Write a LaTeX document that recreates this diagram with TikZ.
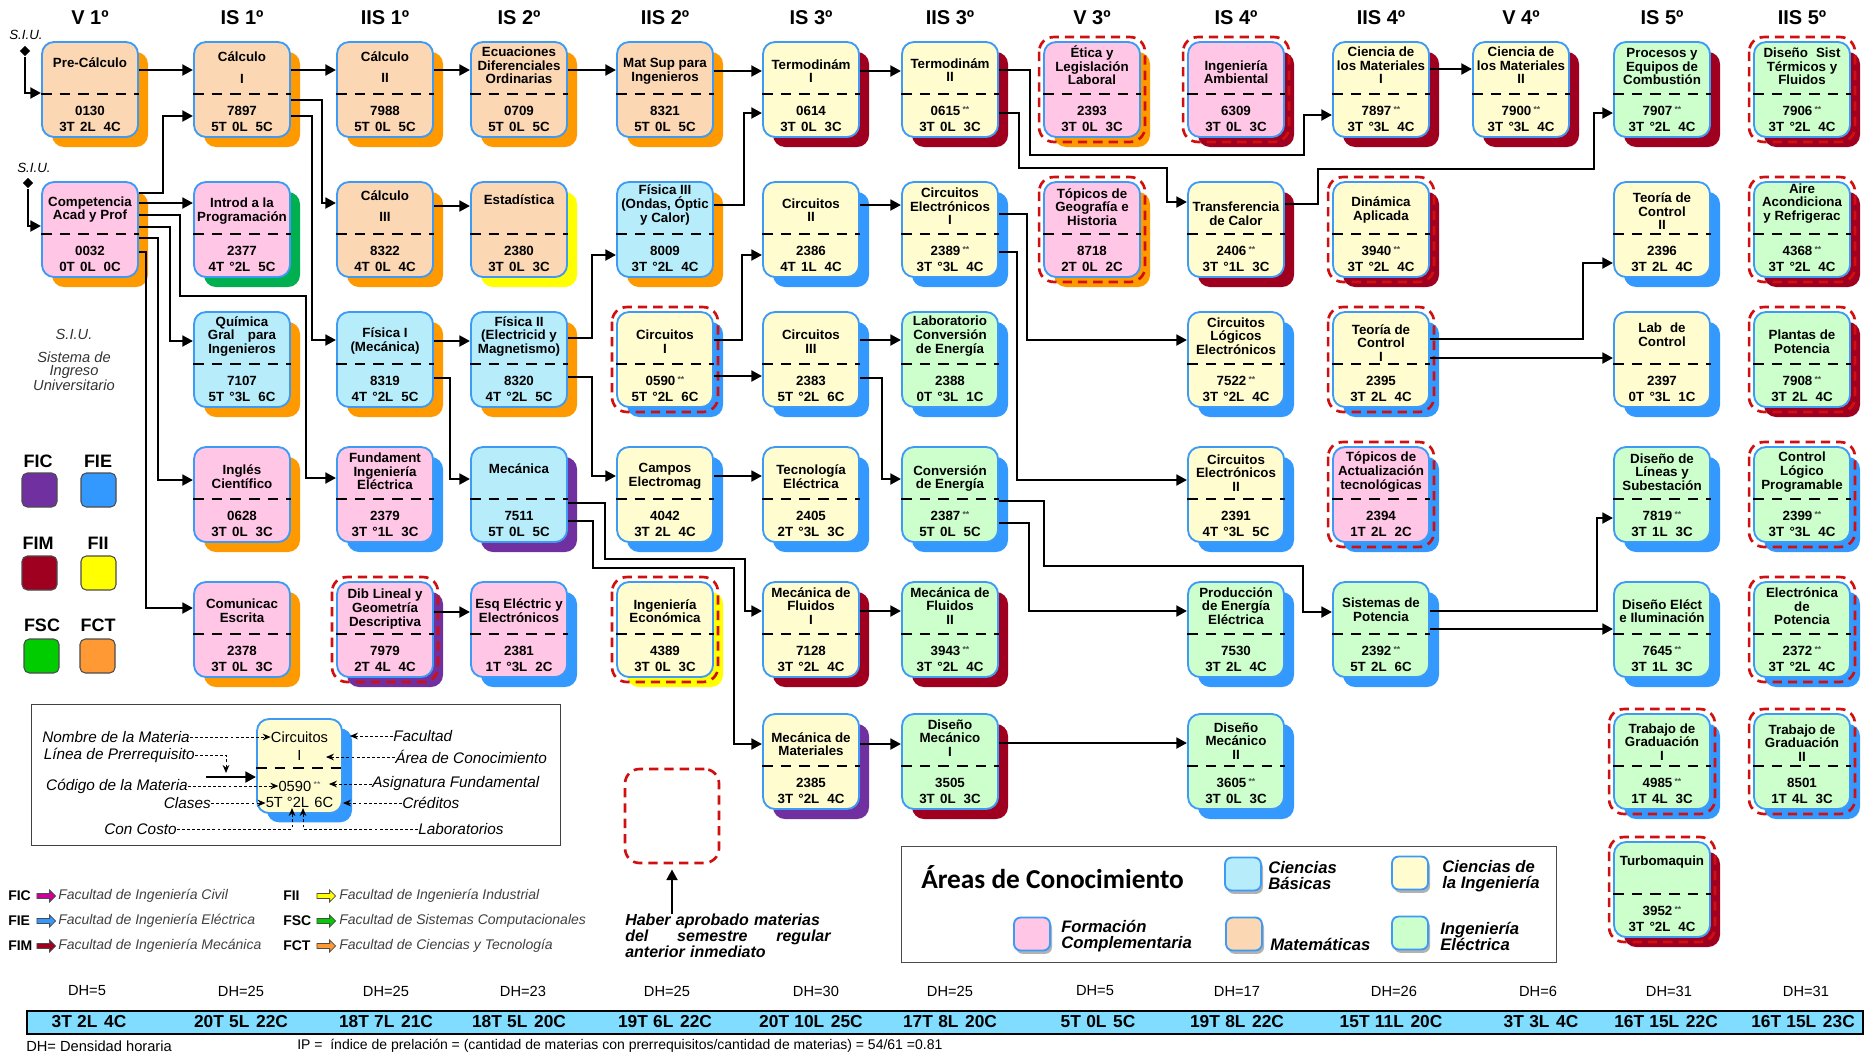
\documentclass[tikz,border=0pt]{standalone}
\usepackage{fontspec}
\setmainfont{Liberation Sans}
\newfontfamily\carlito{Carlito}
\usetikzlibrary{arrows.meta,shadows,calc,shapes.geometric,shapes.arrows}
\definecolor{cMat}{HTML}{FCD7B4}
\definecolor{cFor}{HTML}{FFC6E6}
\definecolor{cBas}{HTML}{B7EDFB}
\definecolor{cIng}{HTML}{FFFDD0}
\definecolor{cEle}{HTML}{CCFFCC}
\definecolor{bordB}{HTML}{3D9BF5}
\definecolor{fFIC}{HTML}{7030A0}
\definecolor{fFIE}{HTML}{3399FF}
\definecolor{fFIM}{HTML}{A00020}
\definecolor{fFII}{HTML}{FFFF00}
\definecolor{fFSC}{HTML}{00B050}
\definecolor{fFCT}{HTML}{FF9900}
\definecolor{sqFSC}{HTML}{00CC00}
\definecolor{sqFCT}{HTML}{FF9933}
\definecolor{arFIC}{HTML}{CC0099}
\definecolor{redfr}{HTML}{D01010}
\definecolor{barc}{HTML}{80DDFF}
\definecolor{txg}{HTML}{404040}
\newcommand{\stars}{\,\raisebox{2.5pt}{\fontsize{6.5}{6.5}\selectfont\color{black!70}**}}
\newcommand{\crd}[3]{#1\hspace{4pt}#2\hspace{6pt}#3}
\newcommand{\subj}[9]{%
  \node[subj, fill=#4, general shadow={fill=#5, shadow xshift=7.5pt, shadow yshift=-7.5pt}] (#1) at (#2,#3+47.5) {};
  \draw[divid] (#1.west |- 0,#3+52) -- (#1.east |- 0,#3+52);
  \node[ttl] (#1-t) at (#2,#3+#9) {#6};
  \node[cdt] (#1-c) at (#2,#3+69) {#7};
  \node[cdt] (#1-k) at (#2,#3+85) {#8};
}
\newcommand{\redfr}[1]{\draw[redframe] ($(#1.north west)+(-4,-4)$) rectangle ($(#1.south east)+(4,4)$);}
\begin{document}
\begin{tikzpicture}[x=0.75pt,y=-0.75pt,
  subj/.style={rectangle, rounded corners=9pt, draw=bordB, line width=1.4pt, minimum width=72pt, minimum height=71.25pt, inner sep=0pt},
  divid/.style={line width=1.5pt, dash pattern=on 8pt off 6pt},
  ttl/.style={font=\fontsize{10}{10.2}\selectfont\bfseries, align=center, inner sep=0pt},
  cdt/.style={font=\fontsize{10}{12}\selectfont\bfseries, inner sep=0pt},
  conn/.style={line width=2pt, -{Triangle[length=8pt,width=8pt]}},
  redframe/.style={draw=redfr, line width=2pt, dash pattern=on 7pt off 4.5pt, rounded corners=11pt},
  hdr/.style={font=\fontsize{15}{15}\selectfont\bfseries, inner sep=0pt},
  sdiam/.style={diamond, fill=black, inner sep=0pt, minimum size=8pt},
  siu/.style={font=\fontsize{10}{10}\selectfont\itshape, inner sep=0pt},
  fsq/.style={rectangle, rounded corners=4pt, draw=black!70, line width=0.8pt, minimum width=26.25pt, minimum height=25.5pt, inner sep=0pt},
  flab/.style={font=\fontsize{13.5}{13.5}\selectfont\bfseries, inner sep=0pt},
  fab/.style={font=\fontsize{10.5}{10.5}\selectfont\bfseries, inner sep=0pt, anchor=west},
  farr/.style={single arrow, draw=black!70, line width=0.6pt, minimum height=14pt, minimum width=9pt, single arrow head extend=1.5pt, inner sep=0.8pt},
  ftx/.style={font=\fontsize{10.5}{10.5}\selectfont\itshape, text=txg, inner sep=0pt, anchor=west},
  dhl/.style={font=\fontsize{11}{11}\selectfont, inner sep=0pt},
  bartx/.style={font=\fontsize{13}{13}\selectfont\bfseries, inner sep=0pt},
  lgl/.style={font=\fontsize{11.5}{11.5}\selectfont\itshape, inner sep=0pt},
  ldash/.style={line width=0.7pt, dash pattern=on 2.2pt off 1.6pt, -{Stealth[length=6pt,width=5pt]}},
  smp/.style={font=\fontsize{11}{11}\selectfont, inner sep=0pt},
  asw/.style={rectangle, rounded corners=5pt, draw=bordB, line width=1.4pt, minimum width=27pt, minimum height=24.75pt, inner sep=0pt, general shadow={fill=black!30, shadow xshift=1.5pt, shadow yshift=-2.5pt}},
  atx/.style={font=\fontsize{12.5}{12}\selectfont\bfseries\itshape, align=left, inner sep=0pt, anchor=west},
]
\useasboundingbox (0,0) rectangle (1872,1057);
% headers
\node[hdr] (h1) at (90,18) {V 1º};
\node[hdr] (h2) at (242,18) {IS 1º};
\node[hdr] (h3) at (385,18) {IIS 1º};
\node[hdr] (h4) at (519,18) {IS 2º};
\node[hdr] (h5) at (665,18) {IIS 2º};
\node[hdr] (h6) at (811,18) {IS 3º};
\node[hdr] (h7) at (950,18) {IIS 3º};
\node[hdr] (h8) at (1092,18) {V 3º};
\node[hdr] (h9) at (1236,18) {IS 4º};
\node[hdr] (h10) at (1381,18) {IIS 4º};
\node[hdr] (h11) at (1521,18) {V 4º};
\node[hdr] (h12) at (1662,18) {IS 5º};
\node[hdr] (h13) at (1802,18) {IIS 5º};
% row 1
\subj{prec}{90}{42}{cMat}{fFCT}{Pre-Cálculo}{0130}{\crd{3T}{2L}{4C}}{21}
\subj{calc1}{242}{42}{cMat}{fFCT}{Cálculo\\[6pt]I}{7897}{\crd{5T}{0L}{5C}}{25.5}
\subj{calc2}{385}{42}{cMat}{fFCT}{Cálculo\\[6pt]II}{7988}{\crd{5T}{0L}{5C}}{25}
\subj{ecu}{519}{42}{cMat}{fFCT}{Ecuaciones\\Diferenciales\\Ordinarias}{0709}{\crd{5T}{0L}{5C}}{23.5}
\subj{matsup}{665}{42}{cMat}{fFCT}{Mat Sup para\\Ingenieros}{8321}{\crd{5T}{0L}{5C}}{29}
\subj{termo1}{811}{42}{cIng}{fFIM}{Termodinám\\I}{0614}{\crd{3T}{0L}{3C}}{29}
\subj{termo2}{950}{42}{cIng}{fFIM}{Termodinám\\II}{0615\stars}{\crd{3T}{0L}{3C}}{28}
\subj{etica}{1092}{42}{cFor}{fFCT}{Ética y\\Legislación\\Laboral}{2393}{\crd{3T}{0L}{3C}}{23.5}
\subj{ambi}{1236}{42}{cFor}{fFIM}{Ingeniería\\Ambiental}{6309}{\crd{3T}{0L}{3C}}{30}
\subj{cmat1}{1381}{42}{cIng}{fFIM}{Ciencia de\\los Materiales\\I}{7897\stars}{\crd{3T}{°3L}{4C}}{23.5}
\subj{cmat2}{1521}{42}{cIng}{fFIM}{Ciencia de\\los Materiales\\II}{7900\stars}{\crd{3T}{°3L}{4C}}{23.5}
\subj{proc}{1662}{42}{cEle}{fFIM}{Procesos y\\Equipos de\\Combustión}{7907\stars}{\crd{3T}{°2L}{4C}}{24.5}
\subj{dsist}{1802}{42}{cEle}{fFIM}{Diseño\hspace{0.6em}Sist\\Térmicos y\\Fluidos}{7906\stars}{\crd{3T}{°2L}{4C}}{24.5}
% row 2
\subj{comp}{90}{182}{cFor}{fFCT}{Competencia\\Acad y Prof}{0032}{\crd{0T}{0L}{0C}}{27.5}
\subj{intro}{242}{182}{cFor}{fFSC}{Introd a la\\Programación}{2377}{\crd{4T}{°2L}{5C}}{29}
\subj{calc3}{385}{182}{cMat}{fFCT}{Cálculo\\[6pt]III}{8322}{\crd{4T}{0L}{4C}}{24}
\subj{esta}{519}{182}{cMat}{fFII}{Estadística}{2380}{\crd{3T}{0L}{3C}}{18}
\subj{fis3}{665}{182}{cBas}{fFCT}{Física III\\(Ondas, Óptic\\y Calor)}{8009}{\crd{3T}{°2L}{4C}}{23}
\subj{circ2}{811}{182}{cIng}{fFIE}{Circuitos\\II}{2386}{\crd{4T}{1L}{4C}}{28}
\subj{ce1}{950}{182}{cIng}{fFIE}{Circuitos\\Electrónicos\\I}{2389\stars}{\crd{3T}{°3L}{4C}}{24.5}
\subj{geo}{1092}{182}{cFor}{fFCT}{Tópicos de\\Geografía e\\Historia}{8718}{\crd{2T}{0L}{2C}}{25}
\subj{transf}{1236}{182}{cIng}{fFIM}{Transferencia\\de Calor}{2406\stars}{\crd{3T}{°1L}{3C}}{31.5}
\subj{dina}{1381}{182}{cIng}{fFIM}{Dinámica\\Aplicada}{3940\stars}{\crd{3T}{°2L}{4C}}{28}
\subj{tc2}{1662}{182}{cIng}{fFIE}{Teoría de\\Control\\II}{2396}{\crd{3T}{2L}{4C}}{29.5}
\subj{aire}{1802}{182}{cEle}{fFIM}{Aire\\Acondiciona\\y Refrigerac}{4368\stars}{\crd{3T}{°2L}{4C}}{21.5}
% row 3
\subj{quim}{242}{312}{cBas}{fFCT}{Química\\Gral\hspace{1em}para\\Ingenieros}{7107}{\crd{5T}{°3L}{6C}}{24.5}
\subj{fis1}{385}{312}{cBas}{fFCT}{Física I\\(Mecánica)}{8319}{\crd{4T}{°2L}{5C}}{29}
\subj{fis2}{519}{312}{cBas}{fFCT}{Física II\\(Electricid y\\Magnetismo)}{8320}{\crd{4T}{°2L}{5C}}{24.5}
\subj{circ1}{665}{312}{cIng}{fFIE}{Circuitos\\I}{0590\stars}{\crd{5T}{°2L}{6C}}{29.5}
\subj{circ3}{811}{312}{cIng}{fFIE}{Circuitos\\III}{2383}{\crd{5T}{°2L}{6C}}{29.5}
\subj{labce}{950}{312}{cEle}{fFIE}{Laboratorio\\Conversión\\de Energía}{2388}{\crd{0T}{°3L}{1C}}{24}
\subj{clog}{1236}{312}{cIng}{fFIE}{Circuitos\\Lógicos\\Electrónicos}{7522\stars}{\crd{3T}{°2L}{4C}}{24}
\subj{tc1}{1381}{312}{cIng}{fFIE}{Teoría de\\Control\\I}{2395}{\crd{3T}{2L}{4C}}{31}
\subj{labc}{1662}{312}{cIng}{fFIE}{Lab\hspace{0.6em}de\\Control}{2397}{\crd{0T}{°3L}{1C}}{22.5}
\subj{plant}{1802}{312}{cEle}{fFIM}{Plantas de\\Potencia}{7908\stars}{\crd{3T}{2L}{4C}}{29.5}
% row 4
\subj{ingl}{242}{447}{cFor}{fFCT}{Inglés\\Científico}{0628}{\crd{3T}{0L}{3C}}{29.5}
\subj{fund}{385}{447}{cFor}{fFIE}{Fundament\\Ingeniería\\Eléctrica}{2379}{\crd{3T}{°1L}{3C}}{24.5}
\subj{meca}{519}{447}{cBas}{fFIC}{Mecánica}{7511}{\crd{5T}{0L}{5C}}{22}
\subj{campos}{665}{447}{cIng}{fFIE}{Campos\\Electromag}{4042}{\crd{3T}{2L}{4C}}{29.5}
\subj{tecel}{811}{447}{cIng}{fFIE}{Tecnología\\Eléctrica}{2405}{\crd{2T}{°3L}{3C}}{29.5}
\subj{conv}{950}{447}{cEle}{fFIE}{Conversión\\de Energía}{2387\stars}{\crd{5T}{0L}{5C}}{31.5}
\subj{ce2}{1236}{447}{cIng}{fFIE}{Circuitos\\Electrónicos\\II}{2391}{\crd{4T}{°3L}{5C}}{26}
\subj{topac}{1381}{447}{cFor}{fFIE}{Tópicos de\\Actualización\\tecnológicas}{2394}{\crd{1T}{2L}{2C}}{25}
\subj{dlin}{1662}{447}{cEle}{fFIE}{Diseño de\\Líneas y\\Subestación}{7819\stars}{\crd{3T}{1L}{3C}}{25}
\subj{clp}{1802}{447}{cEle}{fFIE}{Control\\Lógico\\Programable}{2399\stars}{\crd{3T}{°3L}{4C}}{25}
% row 5
\subj{comu}{242}{582}{cFor}{fFCT}{Comunicac\\Escrita}{2378}{\crd{3T}{0L}{3C}}{29}
\subj{dib}{385}{582}{cFor}{fFIC}{Dib Lineal y\\Geometría\\Descriptiva}{7979}{\crd{2T}{4L}{4C}}{27}
\subj{esq}{519}{582}{cFor}{fFIE}{Esq Eléctric y\\Electrónicos}{2381}{\crd{1T}{°3L}{2C}}{28.5}
\subj{ingec}{665}{582}{cIng}{fFII}{Ingeniería\\Económica}{4389}{\crd{3T}{0L}{3C}}{29}
\subj{mf1}{811}{582}{cIng}{fFIM}{Mecánica de\\Fluidos\\I}{7128}{\crd{3T}{°2L}{4C}}{24}
\subj{mf2}{950}{582}{cEle}{fFIM}{Mecánica de\\Fluidos\\II}{3943\stars}{\crd{3T}{°2L}{4C}}{24}
\subj{prod}{1236}{582}{cEle}{fFIE}{Producción\\de Energía\\Eléctrica}{7530}{\crd{3T}{2L}{4C}}{24}
\subj{sist}{1381}{582}{cEle}{fFIE}{Sistemas de\\Potencia}{2392\stars}{\crd{5T}{2L}{6C}}{28}
\subj{delec}{1662}{582}{cEle}{fFIE}{Diseño Eléct\\e Iluminación}{7645\stars}{\crd{3T}{1L}{3C}}{29}
\subj{elpot}{1802}{582}{cEle}{fFIE}{Electrónica\\de\\Potencia}{2372\stars}{\crd{3T}{°2L}{4C}}{24.5}
% row 6
\subj{mmat}{811}{714}{cIng}{fFIC}{Mecánica de\\Materiales}{2385}{\crd{3T}{°2L}{4C}}{30}
\subj{dm1}{950}{714}{cEle}{fFIM}{Diseño\\Mecánico\\I}{3505}{\crd{3T}{0L}{3C}}{24}
\subj{dm2}{1236}{714}{cEle}{fFIE}{Diseño\\Mecánico\\II}{3605\stars}{\crd{3T}{0L}{3C}}{27}
\subj{tg1}{1662}{714}{cEle}{fFIE}{Trabajo de\\Graduación\\I}{4985\stars}{\crd{1T}{4L}{3C}}{28}
\subj{tg2}{1802}{714}{cEle}{fFIE}{Trabajo de\\Graduación\\II}{8501}{\crd{1T}{4L}{3C}}{29}
% row 7
\subj{turbo}{1662}{842}{cEle}{fFIM}{Turbomaquin}{3952\stars}{\crd{3T}{°2L}{4C}}{20}
% red frames
\redfr{etica}\redfr{ambi}\redfr{dsist}\redfr{geo}\redfr{dina}\redfr{aire}
\redfr{circ1}\redfr{tc1}\redfr{plant}\redfr{topac}\redfr{clp}
\redfr{dib}\redfr{ingec}\redfr{elpot}\redfr{tg1}\redfr{tg2}\redfr{turbo}
% S.I.U. entries
\node[sdiam] (siu1) at (25,51) {};
\node[siu] (siu1l) at (26,35) {S.I.U.};
\draw[conn] (siu1) |- (prec.west |- 0,93);
\node[sdiam] (siu2) at (28,183) {};
\node[siu] (siu2l) at (34,168) {S.I.U.};
\draw[conn] (siu2) |- (comp.west |- 0,226);
% connectors
\draw[conn] (prec.east |- 0,70) -- (calc1.west |- 0,70);
\draw[conn] (calc1.east |- 0,70) -- (calc2.west |- 0,70);
\draw[conn] (calc2.east |- 0,70) -- (ecu.west |- 0,70);
\draw[conn] (ecu.east |- 0,70) -- (matsup.west |- 0,70);
\draw[conn] (matsup.east |- 0,71) -- (termo1.west |- 0,71);
\draw[conn] (termo1.east |- 0,71) -- (termo2.west |- 0,71);
\draw[conn] (calc1.east |- 0,100) -| (322,203) -- (calc3.west |- 0,203);
\draw[conn] (calc1.east |- 0,116) -| (312,340) -- (fis1.west |- 0,340);
\draw[conn] (comp.east |- 0,193) -| (163,116) -- (calc1.west |- 0,116);
\draw[conn] (comp.east |- 0,203) -- (intro.west |- 0,203);
\draw[conn] (comp.east |- 0,215) -| (180,296) -| (306,478) -- (fund.west |- 0,478);
\draw[conn] (comp.east |- 0,227) -| (170,341) -- (quim.west |- 0,341);
\draw[conn] (comp.east |- 0,238) -| (158,480) -- (ingl.west |- 0,480);
\draw[conn] (comp.east |- 0,252) -| (146,608) -- (comu.west |- 0,608);
\draw[conn] (calc3.east |- 0,206) -- (esta.west |- 0,206);
\draw[conn] (fis1.east |- 0,341) -- (fis2.west |- 0,341);
\draw[conn] (fis1.east |- 0,378) -| (450,479) -- (meca.west |- 0,479);
\draw[conn] (dib.east |- 0,612) -- (esq.west |- 0,612);
\draw[conn] (fis2.east |- 0,338) -| (592,255) -- (fis3.west |- 0,255);
\draw[conn] (fis2.east |- 0,377) -| (592,476) -- (campos.west |- 0,476);
\draw[conn] (meca.east |- 0,503) -| (605,559) -| (745,611) -- (mf1.west |- 0,611);
\draw[conn] (meca.east |- 0,521) -| (593,568) -| (734,744) -- (mmat.west |- 0,744);
\draw[conn] (fis3.east |- 0,205) -| (744,113) -- (termo1.west |- 0,113);
\draw[conn] (circ1.east |- 0,340) -| (742,255) -- (circ2.west |- 0,255);
\draw[conn] (circ1.east |- 0,376) -- (circ3.west |- 0,376);
\draw[conn] (circ2.east |- 0,205) -- (ce1.west |- 0,205);
\draw[conn] (circ3.east |- 0,340) -- (labce.west |- 0,340);
\draw[conn] (circ3.east |- 0,378) -| (882,479) -- (conv.west |- 0,479);
\draw[conn] (campos.east |- 0,476) -- (tecel.west |- 0,476);
\draw[conn] (mf1.east |- 0,611) -- (mf2.west |- 0,611);
\draw[conn] (mmat.east |- 0,744) -- (dm1.west |- 0,744);
\draw[conn] (dm1.east |- 0,743) -- (dm2.west |- 0,743);
\draw[conn] (termo2.east |- 0,70) -| (1030,155) -| (1304,115) -- (cmat1.west |- 0,115);
\draw[conn] (termo2.east |- 0,113) -| (1019,168) -| (1167,202) -- (transf.west |- 0,202);
\draw[conn] (ce1.east |- 0,214) -| (1027,340) -- (clog.west |- 0,340);
\draw[conn] (ce1.east |- 0,252) -| (1017,480) -- (ce2.west |- 0,480);
\draw[conn] (transf.east |- 0,204) -| (1318,169) -| (1594,113) -- (proc.west |- 0,113);
\draw[conn] (cmat1.east |- 0,69) -- (cmat2.west |- 0,69);
\draw[conn] (conv.east |- 0,501) -| (1044,566) -| (1303,612) -- (sist.west |- 0,612);
\draw[conn] (conv.east |- 0,523) -| (1029,611) -- (prod.west |- 0,611);
\draw[conn] (tc1.east |- 0,339) -| (1583,263) -- (tc2.west |- 0,263);
\draw[conn] (tc1.east |- 0,358) -- (labc.west |- 0,358);
\draw[conn] (sist.east |- 0,611) -| (1597,518) -- (dlin.west |- 0,518);
\draw[conn] (sist.east |- 0,629) -- (delec.west |- 0,629);
% left legend S.I.U.
\node[font=\fontsize{11}{9.8}\selectfont\itshape, text=black!80, align=center, inner sep=0pt] (siuleg) at (74,360) {S.I.U.\\[8pt]Sistema de\\Ingreso\\Universitario};
% faculty squares
\node[flab] (lFIC) at (38,461) {FIC};
\node[fsq, fill=fFIC] (sFIC) at (39.5,490) {};
\node[flab] (lFIE) at (98,461) {FIE};
\node[fsq, fill=fFIE] (sFIE) at (98.5,490) {};
\node[flab] (lFIM) at (38,543) {FIM};
\node[fsq, fill=fFIM] (sFIM) at (39.5,573) {};
\node[flab] (lFII) at (98,543) {FII};
\node[fsq, fill=fFII] (sFII) at (98.5,573) {};
\node[flab] (lFSC) at (42,625) {FSC};
\node[fsq, fill=sqFSC] (sFSC) at (41.5,656) {};
\node[flab] (lFCT) at (98,625) {FCT};
\node[fsq, fill=sqFCT] (sFCT) at (97.5,656) {};
% explanation legend
\node[draw=black!75, line width=1pt, minimum width=396.75pt, minimum height=105.75pt, inner sep=0pt, anchor=north west] (lgframe) at (31,704) {};
\node[subj, minimum width=63.75pt, minimum height=70.5pt, fill=cIng, general shadow={fill=fFIE, shadow xshift=7.5pt, shadow yshift=-7pt}] (sample) at (299.5,766) {};
\draw[divid] (sample.west |- 0,768) -- (sample.east |- 0,768);
\node[smp] (st1) at (299.5,737) {Circuitos};
\node[smp] (st2) at (299.5,755) {I};
\node[smp] (sc) at (299.5,786) {0590\stars};
\node[smp] (sk) at (299.5,802) {5T\hspace{3pt}°2L\hspace{4pt}6C};
\node[lgl, anchor=east] (lnom) at (190,737) {Nombre de la Materia};
\node[lgl, anchor=east] (lpre) at (195,755) {Línea de Prerrequisito};
\node[lgl, anchor=east] (lcod) at (188,786) {Código de la Materia};
\node[lgl, anchor=east] (lcla) at (211,803) {Clases};
\node[lgl, anchor=east] (lcos) at (177,829) {Con Costo};
\node[lgl, anchor=west] (llab) at (418,829) {Laboratorios};
\node[lgl, anchor=west] (lfac) at (393,736) {Facultad};
\node[lgl, anchor=west] (lare) at (395,757) {Área de Conocimiento};
\node[lgl, anchor=west] (lasi) at (372,784) {Asignatura Fundamental};
\node[lgl, anchor=west] (lcre) at (402,803) {Créditos};
\coordinate (prq) at (206,777);
\draw[conn] (prq) -- (sample.west |- prq);
\draw[ldash] (lnom.east) -- (lnom.east -| st1.west);
\draw[ldash] (lpre.east) -| (226,773);
\draw[ldash] (lcod.east) -- (lcod.east -| sc.west);
\draw[ldash] (lcla.east) -- (lcla.east -| sk.west);
\draw[ldash] (lcos.east) -| (292,808);
\draw[ldash] (llab.west) -| (303,808);
\draw[ldash] (lfac.west) -- ($(sample.east |- lfac.west)+(7,0)$);
\draw[ldash] (lare.west) -- ($(sample.east |- lare.west)+(-17,0)$);
\draw[ldash] (lasi.west) -- ($(sample.east |- lasi.west)+(-14,0)$);
\draw[ldash] (lcre.west) -- (sample.east |- lcre.west);
% faculty arrows legend
\node[fab] (aFIC) at (8,896) {FIC};
\node[farr, fill=arFIC] (rFIC) at (45,896) {};
\node[ftx] (tFIC) at (58,896) {Facultad de Ingeniería Civil};
\node[fab] (aFIE) at (8,921) {FIE};
\node[farr, fill=fFIE] (rFIE) at (45,921) {};
\node[ftx] (tFIE) at (58,921) {Facultad de Ingeniería Eléctrica};
\node[fab] (aFIM) at (8,946) {FIM};
\node[farr, fill=fFIM] (rFIM) at (45,946) {};
\node[ftx] (tFIM) at (58,946) {Facultad de Ingeniería Mecánica};
\node[fab] (aFII) at (283,896) {FII};
\node[farr, fill=fFII] (rFII) at (325,896) {};
\node[ftx] (tFII) at (339,896) {Facultad de Ingeniería Industrial};
\node[fab] (aFSC) at (283,921) {FSC};
\node[farr, fill=sqFSC] (rFSC) at (325,921) {};
\node[ftx] (tFSC) at (339,921) {Facultad de Sistemas Computacionales};
\node[fab] (aFCT) at (283,946) {FCT};
\node[farr, fill=sqFCT] (rFCT) at (325,946) {};
\node[ftx] (tFCT) at (339,946) {Facultad de Ciencias y Tecnología};
% dashed example
\node[draw=redfr, line width=2pt, dash pattern=on 7pt off 4.5pt, rounded corners=11pt, minimum width=70.5pt, minimum height=70.5pt, inner sep=0pt] (ejem) at (672,816) {};
\node[font=\fontsize{12}{12}\selectfont\bfseries\itshape, text width=154pt, align=left, inner sep=0pt, anchor=north west] (haber) at (625,914) {Haber aprobado materias\\del\hfill semestre\hfill regular\\anterior inmediato};
\draw[conn] (haber.north -| ejem.south) -- ([yshift=-3.75pt]ejem.south);
% areas legend
\node[draw=black!70, line width=0.9pt, minimum width=491.25pt, minimum height=87pt, inner sep=0pt, anchor=north west] (areas) at (901,846) {};
\node[font=\carlito\bfseries\fontsize{20.5}{20.5}\selectfont, inner sep=0pt, anchor=west] (areast) at (921,877) {Áreas de Conocimiento};
\node[asw, fill=cBas] (swB) at (1243,874) {};
\node[atx] (twB) at (1268,876) {Ciencias\\Básicas};
\node[asw, fill=cIng] (swI) at (1410,873) {};
\node[atx] (twI) at (1442,876) {Ciencias de\\la Ingeniería};
\node[asw, fill=cFor] (swF) at (1032,934) {};
\node[atx] (twF) at (1061,936) {Formación\\Complementaria};
\node[asw, fill=cMat] (swM) at (1244,934) {};
\node[atx] (twM) at (1270,944) {Matemáticas};
\node[asw, fill=cEle] (swE) at (1410,933) {};
\node[atx] (twE) at (1440,936) {Ingeniería\\Eléctrica};
% DH labels
\node[dhl] (d1) at (87,991) {DH=5};
\node[dhl] (d2) at (241,991) {DH=25};
\node[dhl] (d3) at (386,991) {DH=25};
\node[dhl] (d4) at (523,991) {DH=23};
\node[dhl] (d5) at (667,991) {DH=25};
\node[dhl] (d6) at (816,991) {DH=30};
\node[dhl] (d7) at (950,991) {DH=25};
\node[dhl] (d8) at (1095,991) {DH=5};
\node[dhl] (d9) at (1237,991) {DH=17};
\node[dhl] (d10) at (1394,991) {DH=26};
\node[dhl] (d11) at (1538,991) {DH=6};
\node[dhl] (d12) at (1669,991) {DH=31};
\node[dhl] (d13) at (1806,991) {DH=31};
% bar
\node[draw=black, line width=1.5pt, fill=barc, minimum width=1377pt, minimum height=17.25pt, inner sep=0pt, anchor=north west] (bar) at (26,1010) {};
\node[bartx] (b1) at (89,1022) {3T\hspace{4pt}2L\hspace{5pt}4C};
\node[bartx] (b2) at (241,1022) {20T\hspace{4pt}5L\hspace{5pt}22C};
\node[bartx] (b3) at (386,1022) {18T\hspace{4pt}7L\hspace{5pt}21C};
\node[bartx] (b4) at (519,1022) {18T\hspace{4pt}5L\hspace{5pt}20C};
\node[bartx] (b5) at (665,1022) {19T\hspace{4pt}6L\hspace{5pt}22C};
\node[bartx] (b6) at (811,1022) {20T\hspace{4pt}10L\hspace{5pt}25C};
\node[bartx] (b7) at (950,1022) {17T\hspace{4pt}8L\hspace{5pt}20C};
\node[bartx] (b8) at (1098,1022) {5T\hspace{4pt}0L\hspace{5pt}5C};
\node[bartx] (b9) at (1237,1022) {19T\hspace{4pt}8L\hspace{5pt}22C};
\node[bartx] (b10) at (1391,1022) {15T\hspace{4pt}11L\hspace{5pt}20C};
\node[bartx] (b11) at (1541,1022) {3T\hspace{4pt}3L\hspace{5pt}4C};
\node[bartx] (b12) at (1666,1022) {16T\hspace{4pt}15L\hspace{5pt}22C};
\node[bartx] (b13) at (1803,1022) {16T\hspace{4pt}15L\hspace{5pt}23C};
\node[font=\fontsize{11}{11}\selectfont, inner sep=0pt, anchor=west] (dhdef) at (26,1046) {DH= Densidad horaria};
\node[font=\fontsize{10.5}{10.5}\selectfont, inner sep=0pt, anchor=west] (ipdef) at (297,1046) {IP =\ \ índice de prelación = (cantidad de materias con prerrequisitos/cantidad de materias) = 54/61 =0.81};
\end{tikzpicture}
\end{document}
